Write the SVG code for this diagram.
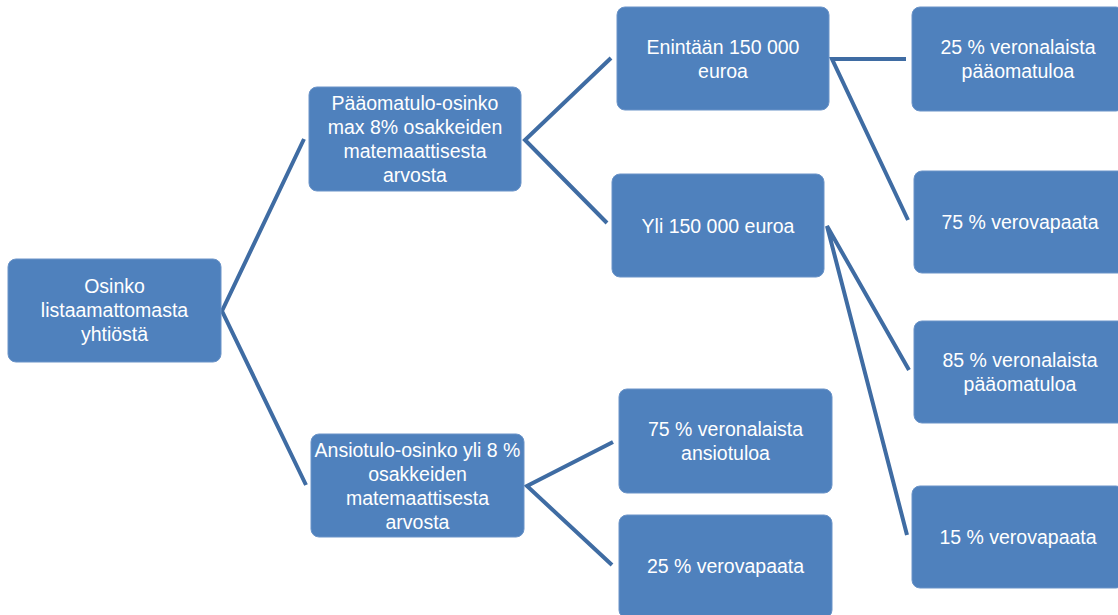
<svg xmlns="http://www.w3.org/2000/svg" width="1118" height="615" viewBox="0 0 1118 615">
<style>
.box{fill:#4F81BD;stroke:#6A93C8;stroke-width:1}
.t{font-family:"Liberation Sans",Arial,sans-serif;font-size:19.5px;fill:#FFFFFF;text-anchor:middle}
.c{stroke:#3F6CA3;stroke-width:4;fill:none;stroke-linejoin:miter}
</style>
<rect width="1118" height="615" fill="#FFFFFF"/>
<g id="connectors">
<polyline class="c" points="304,139 222,311 306,485"/>
<polyline class="c" points="611,58 525,140 607,223"/>
<polyline class="c" points="613,442 527,486 612,565"/>
<polyline class="c" points="906,59 832,59 908,220"/>
<polyline class="c" points="909,370 827,226 907,535"/>
</g>
<g id="n1"><rect class="box" x="8" y="259" width="213" height="103" rx="8"/>
<text class="t"><tspan x="114.5" y="293">Osinko</tspan><tspan x="114.5" y="317">listaamattomasta</tspan><tspan x="114.5" y="341">yhtiöstä</tspan></text></g>
<g id="n2"><rect class="box" x="309" y="87" width="212" height="104" rx="8"/>
<text class="t"><tspan x="415" y="110">Pääomatulo-osinko</tspan><tspan x="415" y="134">max 8% osakkeiden</tspan><tspan x="415" y="158">matemaattisesta</tspan><tspan x="415" y="182">arvosta</tspan></text></g>
<g id="n3"><rect class="box" x="311" y="434" width="213" height="103" rx="8"/>
<text class="t"><tspan x="417.5" y="457">Ansiotulo-osinko yli 8 %</tspan><tspan x="417.5" y="481">osakkeiden</tspan><tspan x="417.5" y="505">matemaattisesta</tspan><tspan x="417.5" y="529">arvosta</tspan></text></g>
<g id="n4"><rect class="box" x="617" y="7" width="212" height="103" rx="8"/>
<text class="t"><tspan x="723" y="54">Enintään 150 000</tspan><tspan x="723" y="78">euroa</tspan></text></g>
<g id="n5"><rect class="box" x="612" y="174" width="212" height="103" rx="8"/>
<text class="t"><tspan x="718" y="233">Yli 150 000 euroa</tspan></text></g>
<g id="n6"><rect class="box" x="619" y="389" width="213" height="104" rx="8"/>
<text class="t"><tspan x="725.5" y="436">75 % veronalaista</tspan><tspan x="725.5" y="460">ansiotuloa</tspan></text></g>
<g id="n7"><rect class="box" x="619" y="515" width="213" height="103" rx="8"/>
<text class="t"><tspan x="725.5" y="573">25 % verovapaata</tspan></text></g>
<g id="n8"><rect class="box" x="912" y="7" width="212" height="104" rx="8"/>
<text class="t"><tspan x="1018" y="54">25 % veronalaista</tspan><tspan x="1018" y="78">pääomatuloa</tspan></text></g>
<g id="n9"><rect class="box" x="914" y="171" width="212" height="102" rx="8"/>
<text class="t"><tspan x="1020" y="229">75 % verovapaata</tspan></text></g>
<g id="n10"><rect class="box" x="914" y="321" width="212" height="102" rx="8"/>
<text class="t"><tspan x="1020" y="367">85 % veronalaista</tspan><tspan x="1020" y="391">pääomatuloa</tspan></text></g>
<g id="n11"><rect class="box" x="912" y="486" width="212" height="102" rx="8"/>
<text class="t"><tspan x="1018" y="544">15 % verovapaata</tspan></text></g>
</svg>
